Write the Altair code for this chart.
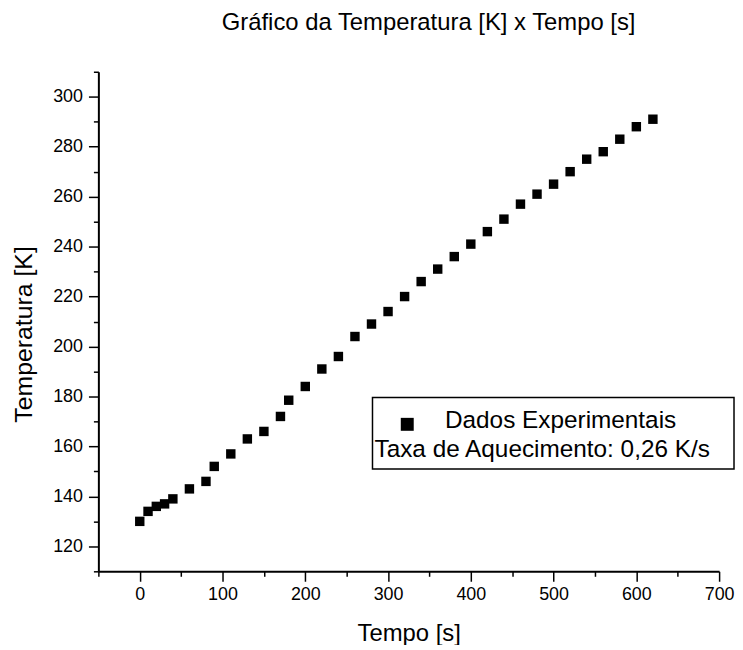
import altair as alt
import pandas as pd

# ---- data ----
tempo = [0, 10, 20, 30, 40, 60, 80, 90, 110, 130, 150, 170, 180,
         200, 220, 240, 260, 280, 300, 320, 340, 360, 380, 400, 420,
         440, 460, 480, 500, 520, 540, 560, 580, 600, 620]
temperatura = [130, 134, 136, 137, 139, 143, 146, 152, 157, 163, 166, 172, 178.5,
               184, 191, 196, 204, 209, 214, 220, 226, 231, 236, 241, 246,
               251, 257, 261, 265, 270, 275, 278, 283, 288, 291]
x_ticks = list(range(-50, 701, 50))
y_ticks = list(range(110, 311, 10))
legend_label = ["Dados Experimentais"]
legend_note = ["Taxa de Aquecimento: 0,26 K/s"]
titulo = "Gráfico da Temperatura [K] x Tempo [s]"

FONT = "Liberation Sans"

df = pd.DataFrame({"Tempo": tempo, "Temperatura": temperatura})

x_axis = alt.Axis(
    values=x_ticks,
    labelExpr="datum.value % 100 === 0 ? datum.label : ''",
    tickSize={"condition": {"test": "datum.value % 100 === 0", "value": 10}, "value": 5},
    grid=False, domainColor="black", domainWidth=2,
    tickColor="black", tickWidth=1.5,
    labelFont=FONT, labelFontSize=18, labelColor="black", labelPadding=4,
    labelFlush=False, labelOverlap=False,
    titleFont=FONT, titleFontSize=24, titleFontWeight="normal", titleColor="black",
    titleY=70, titleBaseline="alphabetic",
)
y_axis = alt.Axis(
    values=y_ticks,
    labelExpr="datum.value % 20 === 0 ? datum.label : ''",
    tickSize={"condition": {"test": "datum.value % 20 === 0", "value": 10}, "value": 5},
    grid=False, domainColor="black", domainWidth=2,
    tickColor="black", tickWidth=1.5,
    labelFont=FONT, labelFontSize=18, labelColor="black", labelPadding=6,
    labelFlush=False, labelOverlap=False,
    titleFont=FONT, titleFontSize=25, titleFontWeight="normal", titleColor="black",
    titleX=-67, titleY=264, titleBaseline="alphabetic", titleAngle=270, titleAlign="center",
)

points = alt.Chart(df).mark_square(size=90, color="black", opacity=1).encode(
    x=alt.X("Tempo:Q", title="Tempo [s]",
            scale=alt.Scale(domain=[-50, 700], nice=False, zero=False), axis=x_axis),
    y=alt.Y("Temperatura:Q", title="Temperatura [K]",
            scale=alt.Scale(domain=[110, 310], nice=False, zero=False), axis=y_axis),
)

one = pd.DataFrame({"k": [0]})
box = alt.Chart(one).mark_rect(fill="white", stroke="black", strokeWidth=1.5).encode(
    x=alt.value(276), x2=alt.value(640), y=alt.value(328), y2=alt.value(400)
)
sym = alt.Chart(one).mark_square(size=170, color="black", opacity=1).encode(
    x=alt.value(311), y=alt.value(355)
)
t1 = alt.Chart(pd.DataFrame({"t": legend_label})).mark_text(
    align="left", baseline="alphabetic", font=FONT, fontSize=24.5, color="black"
).encode(x=alt.value(349), y=alt.value(359), text="t:N")
t2 = alt.Chart(pd.DataFrame({"t": legend_note})).mark_text(
    align="left", baseline="alphabetic", font=FONT, fontSize=24.5, color="black"
).encode(x=alt.value(278), y=alt.value(388), text="t:N")

chart = alt.layer(points, box, sym, t1, t2).properties(
    width=625, height=503,
    title=alt.TitleParams(text=titulo, font=FONT, fontSize=24, fontWeight="normal",
                          color="black", anchor="middle", frame="group",
                          baseline="alphabetic", offset=9, dx=20),
    autosize=alt.AutoSizeParams(type="none"),
    padding={"left": 91, "top": 62, "right": 16, "bottom": 72},
).configure(background="white").configure_view(stroke=None)

chart.save("out.html", embed_options={"renderer": "svg", "actions": False})
